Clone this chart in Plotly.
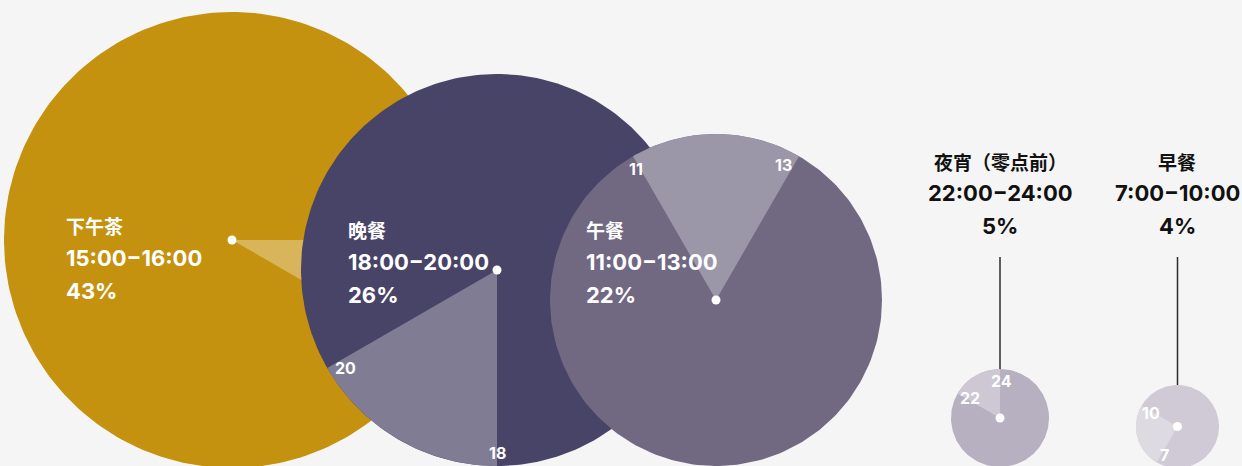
import numpy as np
import plotly.graph_objects as go

# ---- data ----
meals = ["下午茶", "晚餐", "午餐", "夜宵（零点前）", "早餐"]
time_ranges = ["15:00−16:00", "18:00−20:00", "11:00−13:00", "22:00−24:00", "7:00−10:00"]
start_hours = [15, 18, 11, 22, 7]
end_hours = [16, 20, 13, 24, 10]
shares = ["43%", "26%", "22%", "5%", "4%"]

# ---- layout (pixel space) ----
W, H = 1242, 466
centers = [(232, 240), (497, 270), (716, 300), (1000, 418), (1177.5, 426.5)]
radii = [228, 196, 166, 49, 41.5]
face_colors = ["#c4920f", "#484467", "#716882", "#b7b0c0", "#cfcad6"]
wedge_colors = ["#d8b45a", "#7f7c94", "#9b97a8", "#cdc8d4", "#dddae2"]
inside_label = [True, True, True, False, False]
label_pos = [(64, 225), (346, 229), (584, 229), (1000, 161), (1177, 161)]
hour_label_pos = {
    1: [(497, 453), (345, 368)],
    2: [(636, 169), (783, 165)],
    3: [(970, 398), (1001, 381)],
    4: [(1164, 455), (1151, 413)],
}
CJK = "Noto Sans CJK SC"
LAT = "Inter, Noto Sans CJK SC"


def circle_poly(cx, cy, r, n=240):
    t = np.linspace(0, 2 * np.pi, n)
    return cx + r * np.cos(t), cy + r * np.sin(t)


def wedge_poly(cx, cy, r, h0, h1, n=60):
    a0 = (h0 % 12) * 30.0
    span = ((h1 - h0) % 12) * 30.0 if (h1 - h0) % 12 else 360.0
    ang = np.deg2rad(np.linspace(a0, a0 + span, n))
    xs = np.concatenate([[cx], cx + r * np.sin(ang), [cx]])
    ys = np.concatenate([[cy], cy - r * np.cos(ang), [cy]])
    return xs, ys


def title_markup(txt):
    # render full-width brackets with centred glyphs
    for p in ("（", "）"):
        txt = txt.replace(p, f"<span style=\"font-family:'Noto Sans CJK KR'\">{p}</span>")
    return txt


fig = go.Figure()
for i in range(len(meals)):
    cx, cy = centers[i]
    r = radii[i]
    x, y = circle_poly(cx, cy, r)
    fig.add_trace(go.Scatter(x=x, y=y, mode="lines", fill="toself",
                             fillcolor=face_colors[i], line=dict(width=0),
                             hoverinfo="skip", showlegend=False))
    wx, wy = wedge_poly(cx, cy, r, start_hours[i], end_hours[i])
    fig.add_trace(go.Scatter(x=wx, y=wy, mode="lines", fill="toself",
                             fillcolor=wedge_colors[i], line=dict(width=0),
                             hoverinfo="skip", showlegend=False))
    fig.add_trace(go.Scatter(x=[cx], y=[cy], mode="markers",
                             marker=dict(color="white", size=9, line=dict(width=0)),
                             hoverinfo="skip", showlegend=False))

# connector lines for small circles
for i in range(len(meals)):
    if not inside_label[i]:
        cx, cy = centers[i]
        fig.add_trace(go.Scatter(x=[cx, cx], y=[257, cy - radii[i]], mode="lines",
                                 line=dict(color="#2b2b2b", width=1.5),
                                 hoverinfo="skip", showlegend=False))

annotations = []
for i in range(len(meals)):
    lx, ly = label_pos[i]
    if inside_label[i]:
        col, anchor = "white", "left"
        dy = [0, 33, 66]
    else:
        col, anchor = "#111111", "center"
        dy = [0, 32, 65]
    lines = [(title_markup(meals[i]), 19, CJK), (time_ranges[i], 22, LAT), (shares[i], 22, LAT)]
    for (txt, fs, fam), d in zip(lines, dy):
        annotations.append(dict(x=lx, y=ly + d, xref="x", yref="y", text=f"<b>{txt}</b>",
                                showarrow=False, xanchor=anchor, yanchor="middle",
                                font=dict(family=fam, size=fs, color=col)))
    if i in hour_label_pos:
        for hr, (hx, hy) in zip([start_hours[i], end_hours[i]], hour_label_pos[i]):
            annotations.append(dict(x=hx, y=hy, xref="x", yref="y", text=f"<b>{hr}</b>",
                                    showarrow=False, xanchor="center", yanchor="middle",
                                    font=dict(family=LAT, size=16, color="white")))

fig.update_layout(
    width=W, height=H,
    margin=dict(l=0, r=0, t=0, b=0),
    paper_bgcolor="#f5f5f5", plot_bgcolor="#f5f5f5",
    xaxis=dict(range=[0, W], visible=False, fixedrange=True),
    yaxis=dict(range=[H, 0], visible=False, fixedrange=True),
    annotations=annotations,
    showlegend=False,
)
fig.write_html(
    "out.html",
    config={"displayModeBar": False},
    post_script="document.body.style.margin='0';document.body.style.background='#f5f5f5';document.body.style.overflow='hidden';",
)
